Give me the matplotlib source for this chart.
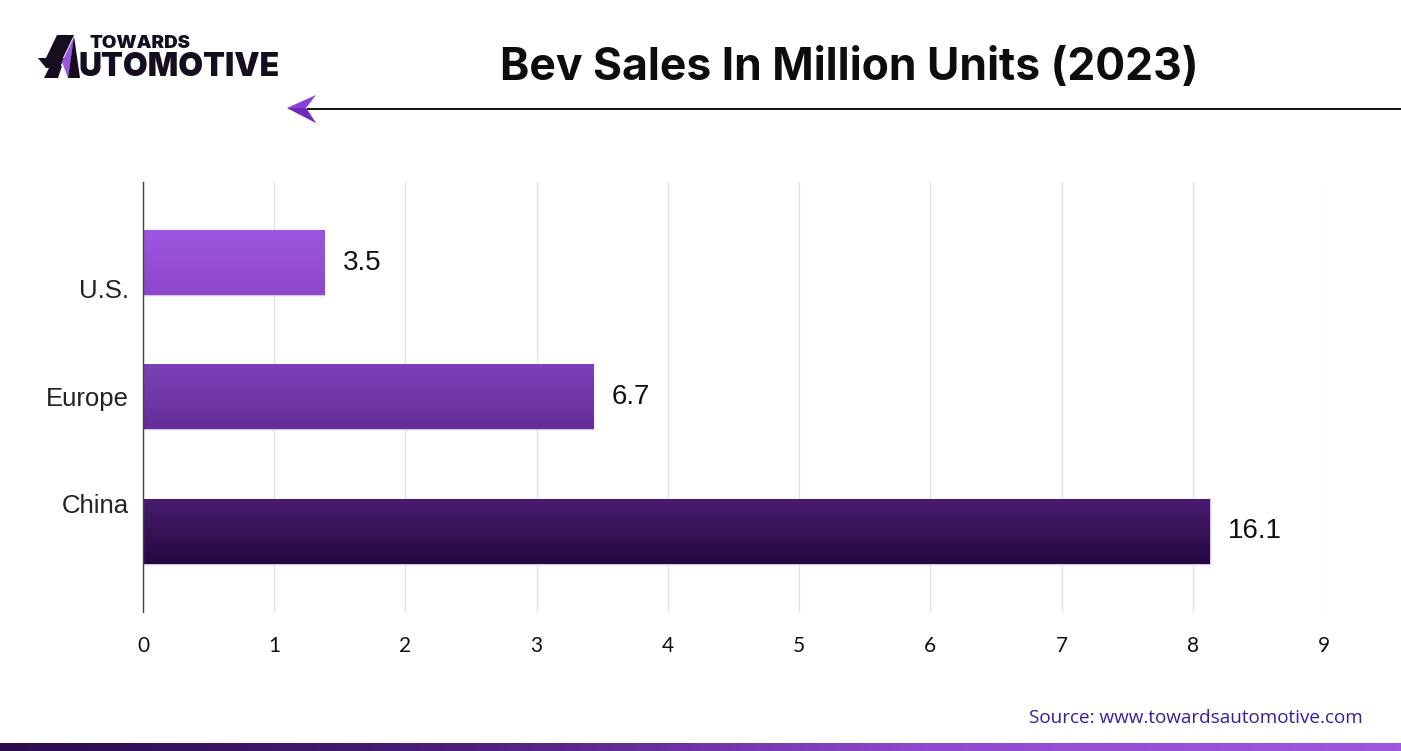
import matplotlib
matplotlib.use("Agg")
import matplotlib.pyplot as plt
import numpy as np
from matplotlib.colors import LinearSegmentedColormap
from matplotlib.patches import Polygon

# ---- data ----
categories = ["China", "Europe", "U.S."]
bar_lengths = [8.13, 3.43, 1.38]          # as drawn on the axis
value_labels = ["16.1", "6.7", "3.5"]
x_ticks = [0, 1, 2, 3, 4, 5, 6, 7, 8, 9]
bar_top_colors = ["#4a1b70", "#7e40b8", "#9d56e0"]
bar_bot_colors = ["#240940", "#652f97", "#8d47cb"]
label_positions = [0.21, 1.0, 1.81]

W, H = 1401, 751
fig = plt.figure(figsize=(W / 100, H / 100), dpi=100)
fig.patch.set_facecolor("white")

ax = fig.add_axes([143 / W, 1 - 612 / H, (1324 - 143) / W, (612 - 182) / H])
ax.set_xlim(0, 9)
ax.set_ylim(-0.6, 2.6)

bars = ax.barh(range(len(categories)), bar_lengths, height=0.48,
               color=bar_top_colors, edgecolor="#d9c3ee", linewidth=1, zorder=2)
for b, ct, cb in zip(bars, bar_top_colors, bar_bot_colors):
    x0, y0 = b.get_x(), b.get_y()
    w, h = b.get_width(), b.get_height()
    cmap = LinearSegmentedColormap.from_list("g", [cb, ct])
    grad = np.linspace(0, 1, 100).reshape(-1, 1)
    ax.imshow(grad, cmap=cmap, extent=[x0, x0 + w, y0, y0 + h], origin="lower",
              aspect="auto", zorder=3, interpolation="bicubic")

for i, (b, lab) in enumerate(zip(bars, value_labels)):
    ax.text(b.get_width() + 0.14, b.get_y() + b.get_height() / 2, lab,
            ha="left", va="center", fontsize=20, family="Liberation Sans",
            color="#111111", zorder=4)

ax.set_xticks(x_ticks)
ax.set_xticklabels([str(t) for t in x_ticks], fontsize=15, family="Lato", color="#111111")
ax.set_yticks(label_positions)
ax.set_yticklabels(categories, fontsize=18.5, family="Liberation Sans", color="#222222")
ax.tick_params(axis="x", length=0, pad=17)
ax.tick_params(axis="y", length=0, pad=10)
ax.grid(axis="x", color="#e2e2e2", linewidth=1, zorder=0)
ax.set_axisbelow(True)
for s in ["top", "right", "bottom"]:
    ax.spines[s].set_visible(False)
ax.spines["left"].set_color("#444444")
ax.spines["left"].set_linewidth(1)
ax.spines["left"].set_zorder(5)

# ---- title ----
fig.text(849 / W, 1 - 68 / H, "Bev Sales In Million Units (2023)", ha="center", va="center",
         fontsize=32, fontweight="bold", family="Inter", color="#0d0d0d")

# ---- header line with arrow ----
ov2 = fig.add_axes([0, 0, 1, 1], zorder=10)
ov2.set_xlim(0, W)
ov2.set_ylim(H, 0)
ov2.axis("off")
ov2.plot([308, W], [108.5, 108.5], color="#111111", linewidth=1.4)
ov2.add_patch(Polygon([[287, 108], [316, 95], [306, 108], [316, 123]], closed=True,
                      facecolor="#8a3fd6", edgecolor="none"))
ov2.add_patch(Polygon([[287, 108], [306, 108], [316, 123]], closed=True,
                      facecolor="#5a1fa6", edgecolor="none", alpha=0.6))

# ---- logo ----
dark = "#160d1e"
ov2.add_patch(Polygon([[57, 35], [74, 35], [62, 60], [45, 60]], closed=True,
                      facecolor=dark, edgecolor="none"))
ov2.add_patch(Polygon([[38, 58], [64, 58], [60, 68], [46, 68], [42, 63]], closed=True,
                      facecolor=dark, edgecolor="none"))
ov2.add_patch(Polygon([[50, 66], [62, 66], [58, 78], [44, 78]], closed=True,
                      facecolor=dark, edgecolor="none"))
ov2.add_patch(Polygon([[74, 37], [62, 62], [68, 78]], closed=True,
                      facecolor="#9d56e0", edgecolor="none"))
ov2.add_patch(Polygon([[74, 36], [80, 78], [68, 78]], closed=True,
                      facecolor=dark, edgecolor="none"))
ov2.text(89, 43, "TOWARDS", fontsize=13.5, fontweight="black", family="Inter",
         color=dark, ha="left", va="center")
ov2.text(78, 67, "UTOMOTIVE", fontsize=23, fontweight="black", family="Inter",
         color=dark, ha="left", va="center")

# ---- source ----
fig.text(1363 / W, 1 - 718 / H, "Source: www.towardsautomotive.com", ha="right", va="center",
         fontsize=13.6, family="Open Sans", fontweight="medium", color="#3a1ca0")

# ---- bottom gradient strip ----
strip = fig.add_axes([0, 0, 1, 8 / H], zorder=11)
strip.axis("off")
cm2 = LinearSegmentedColormap.from_list("s", ["#2a0c4c", "#4c1f7a", "#8f4bd0", "#9d58e0"])
strip.imshow(np.linspace(0, 1, 256).reshape(1, -1), cmap=cm2, aspect="auto",
             extent=[0, 1, 0, 1])
strip.set_xlim(0, 1)
strip.set_ylim(0, 1)

fig.savefig("out.png", dpi=100)
